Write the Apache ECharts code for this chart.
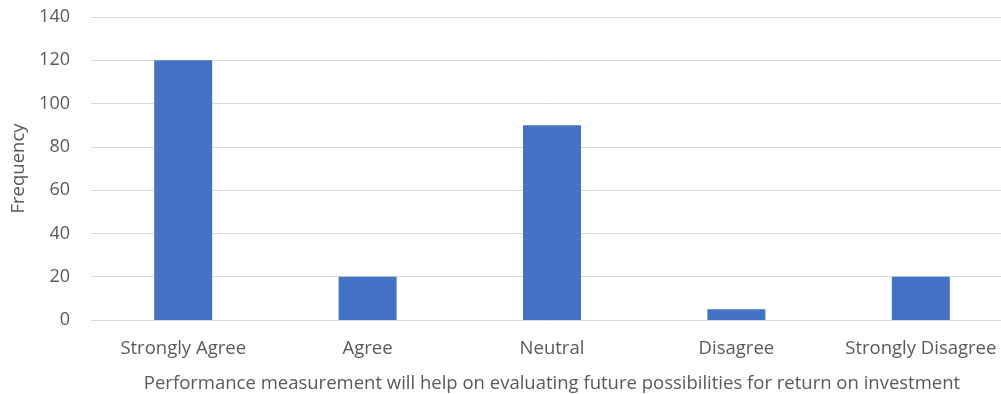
<!DOCTYPE html>
<html>
<head>
<meta charset="utf-8">
<script src="https://cdn.jsdelivr.net/npm/echarts@6/dist/echarts.min.js"></script>
<style>
  html, body { margin: 0; padding: 0; background: #fff; overflow: hidden; }
  #chart { width: 1001px; height: 394px; }
</style>
</head>
<body>
<div id="chart"></div>
<script>
// Survey responses: frequency per answer
const categories = ['Strongly Agree', 'Agree', 'Neutral', 'Disagree', 'Strongly Disagree'];
const frequency = [120, 20, 90, 5, 20];
const yTicks = { min: 0, max: 140, interval: 20 };

const xTitle = 'Performance measurement will help on evaluating future possibilities for return on investment';
const yTitle = 'Frequency';

const FONT = 'Open Sans';
const TEXT = '#595959';

const chart = echarts.init(document.getElementById('chart'));
chart.setOption({
  animation: false,
  textStyle: { fontFamily: FONT },
  // plot runs slightly past the right edge of the canvas
  grid: {
    left: 91, width: 922, top: 17, height: 303,
    containLabel: false,
    outerBoundsMode: 'none'
  },
  xAxis: {
    type: 'category',
    data: categories,
    name: xTitle,
    nameLocation: 'middle',
    nameGap: 54,
    nameTextStyle: { color: TEXT, fontSize: 18.5, fontFamily: FONT },
    axisLine: { show: true, lineStyle: { color: '#d9d9d9', width: 1 } },
    axisTick: { show: false },
    axisLabel: { color: TEXT, fontSize: 18.5, margin: 19, interval: 0 }
  },
  yAxis: {
    type: 'value',
    min: yTicks.min,
    max: yTicks.max,
    interval: yTicks.interval,
    name: yTitle,
    nameLocation: 'middle',
    nameGap: 62,
    nameRotate: 90,
    nameTextStyle: { color: TEXT, fontSize: 18.5, fontFamily: FONT },
    axisLine: { show: false },
    axisTick: { show: false },
    axisLabel: { color: TEXT, fontSize: 18, margin: 21 },
    splitLine: { lineStyle: { color: '#d9d9d9', width: 1 } }
  },
  series: [{
    type: 'bar',
    data: frequency,
    barWidth: 58,
    itemStyle: { color: '#4472c4' }
  }]
});
</script>
</body>
</html>
